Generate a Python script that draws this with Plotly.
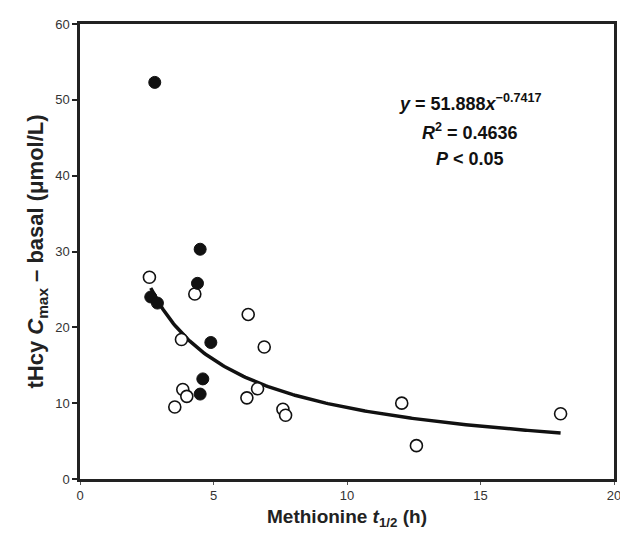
import numpy as np
import plotly.graph_objects as go

# Filled circles
filled_x = [2.8, 4.5, 4.4, 2.65, 2.9, 4.9, 4.6, 4.5]
filled_y = [52.3, 30.3, 25.8, 24.0, 23.2, 18.0, 13.2, 11.2]

# Open circles
open_x = [2.6, 4.3, 3.8, 6.3, 6.9, 3.85, 4.0, 3.55, 6.25, 6.65, 7.6, 7.7, 12.05, 12.6, 18.0]
open_y = [26.6, 24.4, 18.4, 21.7, 17.4, 11.8, 10.9, 9.5, 10.7, 11.9, 9.2, 8.4, 10.0, 4.4, 8.6]

# Power fit from the chart's equation
fit_a = 51.888
fit_b = -0.7417
fit_xmin, fit_xmax = 2.65, 18.0

x_ticks = [0, 5, 10, 15, 20]
y_ticks = [0, 10, 20, 30, 40, 50, 60]

fx = np.linspace(fit_xmin, fit_xmax, 200)
fy = fit_a * fx ** fit_b

fig = go.Figure()
fig.add_trace(go.Scatter(x=fx, y=fy, mode="lines",
                         line=dict(color="#111111", width=3.5),
                         showlegend=False, hoverinfo="skip"))
fig.add_trace(go.Scatter(x=open_x, y=open_y, mode="markers",
                         marker=dict(size=12, color="white", symbol="circle",
                                     line=dict(color="#111111", width=1.6)),
                         showlegend=False))
fig.add_trace(go.Scatter(x=filled_x, y=filled_y, mode="markers",
                         marker=dict(size=12, color="#111111", symbol="circle",
                                     line=dict(color="#111111", width=1)),
                         showlegend=False))

font_fam = "Liberation Sans, Arial, sans-serif"

fig.update_layout(
    width=628, height=538,
    margin=dict(l=72, r=22, t=9, b=67),
    paper_bgcolor="white", plot_bgcolor="white",
    font=dict(family=font_fam, color="#222222"),
    xaxis=dict(range=[0, 20], tickvals=x_ticks, ticks="outside", ticklen=3,
               tickwidth=1, tickcolor="#555555",
               showgrid=False, zeroline=False, showline=True, linecolor="#222222",
               linewidth=2.5, mirror=True,
               tickfont=dict(size=13, color="#333333", family=font_fam),
               title=dict(text="<b>Methionine <i>t</i><sub>1/2</sub> (h)</b>",
                          font=dict(size=19, color="#222222", family=font_fam),
                          standoff=8)),
    yaxis=dict(range=[0, 60], tickvals=y_ticks, ticks="outside", ticklen=5,
               tickwidth=1.5, tickcolor="#222222",
               showgrid=False, zeroline=False, showline=True, linecolor="#222222",
               linewidth=2.5, mirror=True,
               tickfont=dict(size=13, color="#333333", family=font_fam),
               title=dict(text="<b>tHcy <i>C</i><sub>max</sub> \u2013 basal (\u03bcmol/L)</b>",
                          font=dict(size=22, color="#222222", family=font_fam),
                          standoff=6)),
)

# annotation positions in screenshot pixels, converted to paper coords
plot_l, plot_r, plot_t, plot_b = 80, 614, 21, 479
ann_texts = ["<b><i>y</i> = 51.888<i>x</i><sup>\u22120.7417</sup></b>",
             "<b><i>R</i><sup>2</sup> = 0.4636</b>",
             "<b><i>P</i> &lt; 0.05</b>"]
ann_px = [(470, 100), (470, 129), (470, 157)]
for t, (px, py) in zip(ann_texts, ann_px):
    fig.add_annotation(x=(px - plot_l) / (plot_r - plot_l),
                       y=(plot_b - py) / (plot_b - plot_t),
                       xref="paper", yref="paper", xanchor="center", yanchor="middle",
                       showarrow=False, text=t,
                       font=dict(size=18, color="#111111", family=font_fam))

fig.write_html("out.html")
